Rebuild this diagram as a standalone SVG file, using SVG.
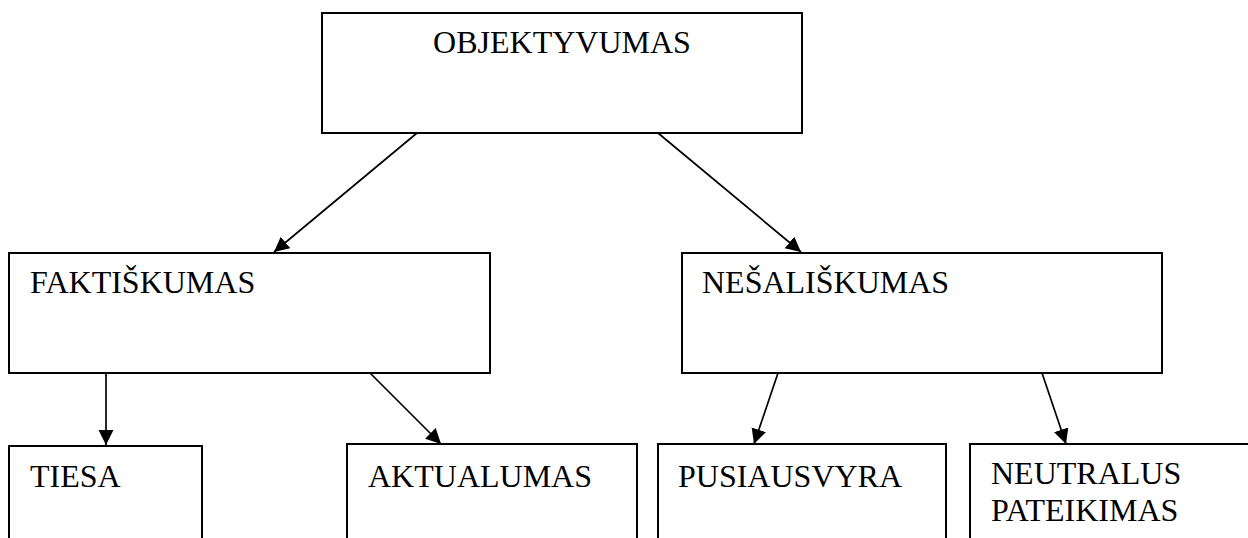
<svg xmlns="http://www.w3.org/2000/svg" width="1248" height="538" viewBox="0 0 1248 538">
<style>
.box{fill:#fff;stroke:#000;stroke-width:2}
.lbl{font-family:"Liberation Serif","Times New Roman","DejaVu Serif",serif;font-size:32px;fill:#000}
.conn{stroke:#000;stroke-width:1.7;fill:none;marker-end:url(#ah)}
</style>
<defs>
<marker id="ah" markerUnits="userSpaceOnUse" markerWidth="16" markerHeight="16" refX="15" refY="7.5" orient="auto">
<path d="M0,0 L15,7.5 L0,15 z" fill="#000"/>
</marker>
</defs>
<rect width="1248" height="538" fill="#fff"/>
<g id="n-objektyvumas">
<rect class="box" x="322" y="13" width="480" height="120"/>
<text class="lbl" x="562" y="53" text-anchor="middle">OBJEKTYVUMAS</text>
</g>
<g id="n-faktiskumas">
<rect class="box" x="9" y="253" width="481" height="120"/>
<text class="lbl" x="30" y="293">FAKTIŠKUMAS</text>
</g>
<g id="n-nesaliskumas">
<rect class="box" x="682" y="253" width="480" height="120"/>
<text class="lbl" x="702" y="293">NEŠALIŠKUMAS</text>
</g>
<g id="n-tiesa">
<rect class="box" x="9" y="446" width="193" height="110"/>
<text class="lbl" x="30" y="487">TIESA</text>
</g>
<g id="n-aktualumas">
<rect class="box" x="347" y="444" width="290" height="110"/>
<text class="lbl" x="368" y="487">AKTUALUMAS</text>
</g>
<g id="n-pusiausvyra">
<rect class="box" x="658" y="444" width="288" height="110"/>
<text class="lbl" x="678" y="487">PUSIAUSVYRA</text>
</g>
<g id="n-neutralus">
<rect class="box" x="970" y="444" width="290" height="110"/>
<text class="lbl" x="991" y="484">NEUTRALUS</text>
<text class="lbl" x="991" y="521">PATEIKIMAS</text>
</g>
<g id="connectors">
<line class="conn" x1="417" y1="133" x2="274" y2="252"/>
<line class="conn" x1="658" y1="133" x2="801" y2="252"/>
<line class="conn" x1="106" y1="373" x2="106" y2="445"/>
<line class="conn" x1="370" y1="373" x2="441" y2="444"/>
<line class="conn" x1="778" y1="373" x2="754" y2="444"/>
<line class="conn" x1="1042" y1="373" x2="1066" y2="444"/>
</g>
</svg>
